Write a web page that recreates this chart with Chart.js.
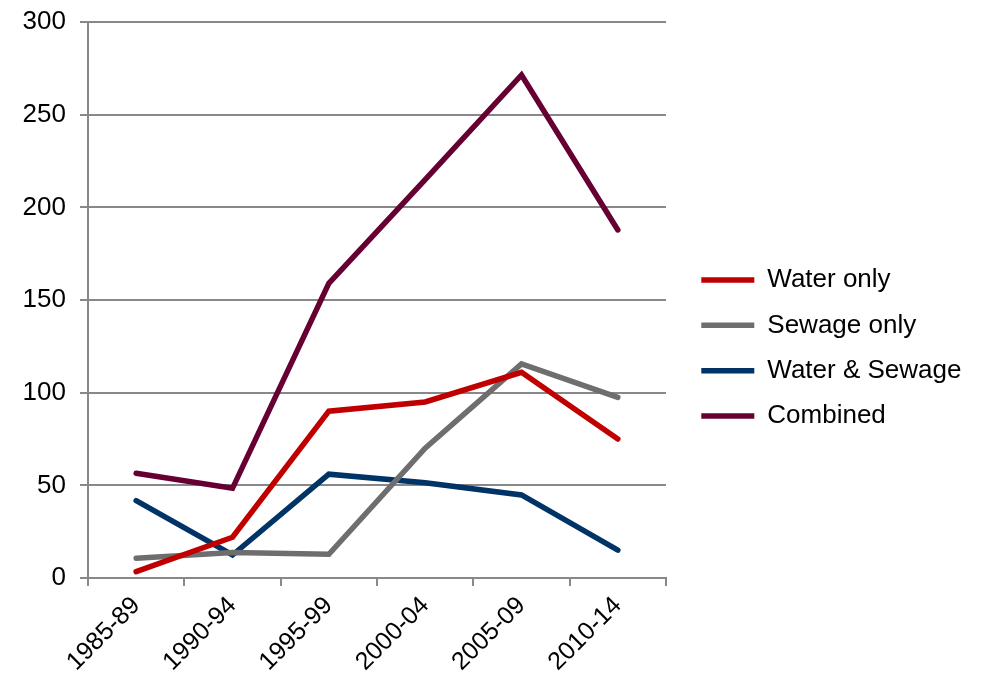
<!DOCTYPE html>
<html>
<head>
<meta charset="utf-8">
<script src="https://cdn.jsdelivr.net/npm/chart.js@4/dist/chart.umd.min.js"></script>
<style>
  html, body { margin: 0; padding: 0; background: #fff; }
  #wrap { width: 987px; height: 680px; position: relative; }
</style>
</head>
<body>
<div id="wrap"><canvas id="lineChart" width="987" height="680"></canvas></div>
<script>
// periods on the x axis
var periods = ["1985-89", "1990-94", "1995-99", "2000-04", "2005-09", "2010-14"];

// series values
var waterOnly = [3.4, 22, 90, 95, 111, 75];
var sewageOnly = [10.6, 13.8, 12.8, 70, 115.5, 97.5];
var waterAndSewage = [41.7, 12.4, 56, 51.4, 44.8, 15.1];
var combined = [56.5, 48.4, 159, 215, 271.4, 187.8];

var yTicks = [0, 50, 100, 150, 200, 250, 300];

var fontFamily = "'Liberation Sans', Arial, sans-serif";

function series(label, data, color) {
    return {
        label: label,
        data: data,
        borderColor: color,
        backgroundColor: color,
        borderWidth: 5.5,
        borderCapStyle: "round",
        borderJoinStyle: "miter",
        pointRadius: 0,
        pointHoverRadius: 0,
        tension: 0,
        fill: false
    };
}

// legend gets a fixed width, then is nudged a little
var legendBox = {
    id: "legendBox",
    beforeLayout: function (chart) {
        var lg = chart.legend;
        if (lg && !lg._fixedWidth) {
            var origFit = lg.fit;
            lg.fit = function () {
                origFit.call(this);
                this.width = 321;
            };
            lg._fixedWidth = true;
        }
    },
    afterLayout: function (chart) {
        if (chart.legend) {
            chart.legend.left += 16;
            chart.legend.top -= 3;
            chart.legend.bottom -= 3;
        }
    }
};

var ctx = document.getElementById("lineChart").getContext("2d");
var chartInstance = new Chart(ctx, {
    type: "line",
    data: {
        labels: periods,
        datasets: [
            series("Water only", waterOnly, "#C00000"),
            series("Sewage only", sewageOnly, "#6E6E6E"),
            series("Water & Sewage", waterAndSewage, "#003366"),
            series("Combined", combined, "#660033")
        ]
    },
    plugins: [legendBox],
    options: {
        responsive: false,
        animation: false,
        layout: { padding: { top: 22, right: 0, left: 0, bottom: 0 } },
        plugins: {
            tooltip: { enabled: false },
            legend: {
                position: "right",
                labels: {
                    usePointStyle: true,
                    pointStyle: "line",
                    pointStyleWidth: 53,
                    color: "#000",
                    font: { family: fontFamily, size: 26 },
                    padding: 19.3
                }
            }
        },
        scales: {
            x: {
                offset: true,
                afterFit: function (scale) { scale.height = 102; },
                grid: {
                    display: true,
                    offset: true,
                    drawOnChartArea: false,
                    drawTicks: true,
                    tickLength: 8,
                    color: "#888",
                    lineWidth: 2
                },
                border: { display: true, color: "#888", width: 2 },
                ticks: {
                    color: "#000",
                    font: { family: fontFamily, size: 25 },
                    minRotation: 45,
                    maxRotation: 45,
                    padding: 5
                }
            },
            y: {
                min: 0,
                max: 300,
                afterFit: function (scale) {
                    scale.width = 88;
                    scale.paddingTop = 0;
                    scale.paddingBottom = 0;
                },
                afterBuildTicks: function (scale) {
                    scale.ticks = yTicks.map(function (v) { return { value: v }; });
                },
                grid: {
                    color: "#888",
                    lineWidth: 2,
                    tickLength: 8
                },
                border: { display: true, color: "#888", width: 2 },
                ticks: {
                    color: "#000",
                    font: { family: fontFamily, size: 26 },
                    padding: 14
                }
            }
        }
    }
});
</script>
</body>
</html>
